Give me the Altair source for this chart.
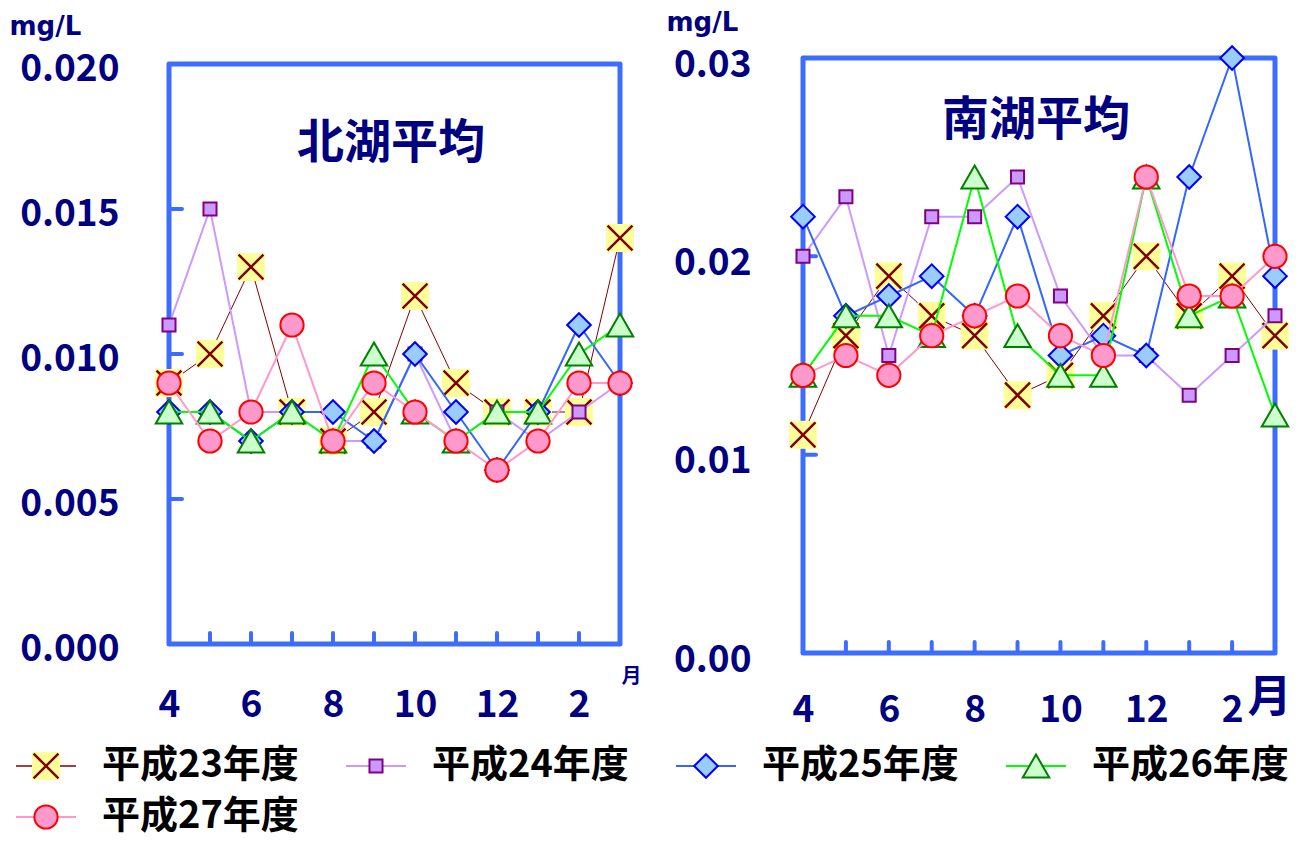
import altair as alt
import pandas as pd

# ---------------- data ----------------
months = ["4", "5", "6", "7", "8", "9", "10", "11", "12", "1", "2", "3"]
month_labels = ["4", "6", "8", "10", "12", "2"]
inner_months = months[1:11]
series_names = ["平成23年度", "平成24年度", "平成25年度", "平成26年度", "平成27年度"]

north_h23 = [0.009, 0.010, 0.013, 0.008, 0.007, 0.008, 0.012, 0.009, 0.008, 0.008, 0.008, 0.014]
north_h24 = [0.011, 0.015, 0.008, 0.008, 0.007, 0.007, 0.010, 0.007, 0.008, 0.007, 0.008, 0.009]
north_h25 = [0.008, 0.008, 0.007, 0.008, 0.008, 0.007, 0.010, 0.008, 0.006, 0.008, 0.011, 0.009]
north_h26 = [0.008, 0.008, 0.007, 0.008, 0.007, 0.010, 0.008, 0.007, 0.008, 0.008, 0.010, 0.011]
north_h27 = [0.009, 0.007, 0.008, 0.011, 0.007, 0.009, 0.008, 0.007, 0.006, 0.007, 0.009, 0.009]

south_h23 = [0.011, 0.016, 0.019, 0.017, 0.016, 0.013, 0.014, 0.017, 0.020, 0.017, 0.019, 0.016]
south_h24 = [0.020, 0.023, 0.015, 0.022, 0.022, 0.024, 0.018, 0.015, 0.015, 0.013, 0.015, 0.017]
south_h25 = [0.022, 0.017, 0.018, 0.019, 0.017, 0.022, 0.015, 0.016, 0.015, 0.024, 0.030, 0.019]
south_h26 = [0.014, 0.017, 0.017, 0.016, 0.024, 0.016, 0.014, 0.014, 0.024, 0.017, 0.018, 0.012]
south_h27 = [0.014, 0.015, 0.014, 0.016, 0.017, 0.018, 0.016, 0.015, 0.024, 0.018, 0.018, 0.020]

north_ticks = [0.0, 0.005, 0.010, 0.015, 0.020]
south_ticks = [0.0, 0.01, 0.02, 0.03]

legend_cols = [0, 1, 2, 3, 0]
legend_rows = [0, 0, 0, 0, 1]

# ---------------- styles ----------------
FONT = "Noto Sans CJK JP"
NAVY = "#000080"
BLUE = "#3d6dff"
XPATH = "M-1,-1L1,1M1,-1L-1,1"

styles = [
    dict(line="#800000", lw=1, kind="x"),
    dict(line="#cc99ff", lw=2, kind="s", shape="square", fill="#cc99ff", stroke="#800080", size=170),
    dict(line="#3366ff", lw=2, kind="s", shape="diamond", fill="#99ccff", stroke="#0000ff", size=560),
    dict(line="#00ff00", lw=2, kind="s", shape="triangle-up", fill="#ccffcc", stroke="#008000", size=700),
    dict(line="#ff99cc", lw=2, kind="s", shape="circle", fill="#ff99cc", stroke="#ff0000", size=540),
]


def marker_layers(base, st):
    if st["kind"] == "x":
        return [
            base.mark_point(shape="square", filled=True, fill="#ffff99", size=784,
                            opacity=1, strokeWidth=0),
            base.mark_point(shape=XPATH, filled=False, stroke="#800000", strokeWidth=2.5,
                            size=620, opacity=1),
        ]
    return [base.mark_point(shape=st["shape"], filled=True, fill=st["fill"], stroke=st["stroke"],
                            strokeWidth=2, size=st["size"], opacity=1)]


def panel(series_vals, W, H, top, ymax, yvals, fmt, title, tpos, mgl, mon, lpad, xpad, loff):
    # top: pixel gap between view top and the frame top (frame drawn as data-range box)
    x_axis = alt.Axis(values=month_labels, labelAngle=0, domain=False, ticks=False, grid=False,
                      labelFont=FONT, labelFontSize=37, labelFontWeight="bold", labelColor=NAVY,
                      labelPadding=xpad, title="月", titleFont=FONT, titleFontSize=mon[2],
                      titleFontWeight="bold", titleColor=NAVY, titleX=mon[0], titleY=mon[1],
                      titleBaseline="middle", titleAlign="center", titleAngle=0)
    y_axis = alt.Axis(values=yvals, format=fmt, domain=False, ticks=False, grid=False,
                      labelFont=FONT, labelFontSize=37, labelFontWeight="bold", labelColor=NAVY,
                      labelPadding=lpad, labelOffset=loff, title="mg/L", titleFont="DejaVu Sans",
                      titleFontSize=26, titleFontWeight="bold", titleColor=NAVY, titleAngle=0,
                      titleAlign="left", titleBaseline="top", titleX=mgl[0], titleY=mgl[1])
    x_enc = alt.X("month:N", scale=alt.Scale(type="point", domain=months, padding=0), axis=x_axis)
    y_enc = alt.Y("value:Q", scale=alt.Scale(domain=[0, ymax], range=[H, top], nice=False, zero=True),
                  axis=y_axis)

    layers = []
    # frame of the plot area, spanning the y-domain
    box_df = pd.DataFrame({"value": [ymax], "value2": [0.0]})
    layers.append(alt.Chart(box_df).mark_rect(fill="white", stroke=BLUE, strokeWidth=5,
                                              strokeJoin="round")
                  .encode(y=y_enc, y2="value2:Q", x=alt.value(0), x2=alt.value(W)))
    ytick_df = pd.DataFrame({"value": yvals[1:-1]})
    layers.append(alt.Chart(ytick_df).mark_rule(color=BLUE, strokeWidth=4, strokeCap="round")
                  .encode(y=y_enc, x=alt.value(0), x2=alt.value(13)))
    xtick_df = pd.DataFrame({"month": inner_months})
    layers.append(alt.Chart(xtick_df).mark_rule(color=BLUE, strokeWidth=4, strokeCap="round")
                  .encode(x=x_enc, y=alt.value(H), y2=alt.value(H - 11)))
    layers.append(alt.Chart(pd.DataFrame({"t": [title]}))
                  .mark_text(font=FONT, fontSize=47, fontWeight="bold", color=NAVY)
                  .encode(x=alt.value(tpos[0]), y=alt.value(tpos[1]), text="t:N"))
    for vals, st in zip(series_vals, styles):
        df = pd.DataFrame({"month": months, "value": vals})
        base = alt.Chart(df).encode(x=x_enc, y=y_enc)
        layers.append(base.mark_line(color=st["line"], strokeWidth=st["lw"]))
        layers.extend(marker_layers(base, st))
    return alt.layer(*layers).properties(
        width=W, height=H, view=alt.ViewBackground(stroke="transparent"))


left = panel([north_h23, north_h24, north_h25, north_h26, north_h27],
             451, 586, 6, 0.020, north_ticks, ".3f", "北湖平均", (222, 86),
             (-160, -45), (462, 32, 20), 50, 43, 5)
right = panel([south_h23, south_h24, south_h25, south_h26, south_h27],
              472, 595, 0, 0.03, south_ticks, ".2f", "南湖平均", (233, 63),
              (-137, -49), (466, 45, 44), 52, 39, 7)

# ---------------- legend ----------------
lx = alt.X("col:Q", scale=alt.Scale(domain=[0, 4], range=[-123, -123 + 4 * 330]), axis=None)
ly = alt.Y("row:Q", scale=alt.Scale(domain=[0, 1], range=[26, 77]), axis=None)
leg_layers = []
for name, st, c, r in zip(series_names, styles, legend_cols, legend_rows):
    df = pd.DataFrame({"col": [c], "row": [r], "name": [name]})
    base = alt.Chart(df).encode(x=lx, y=ly)
    leg_layers.append(base.mark_rule(color=st["line"], strokeWidth=max(st["lw"], 1.5),
                                     xOffset=-30, x2Offset=30).encode(x2="col:Q"))
    leg_layers.extend(marker_layers(base, st))
    leg_layers.append(base.mark_text(align="left", baseline="middle", dx=56, font=FONT,
                                     fontSize=38, fontWeight="bold", color="black")
                      .encode(text="name:N"))
legend = alt.layer(*leg_layers).properties(
    width=1000, height=86, view=alt.ViewBackground(stroke="transparent"))

chart = alt.vconcat(alt.hconcat(left, right, spacing=23), legend, spacing=10).properties(padding=0)
chart.save("out.html", embed_options={"renderer": "svg", "actions": False})
